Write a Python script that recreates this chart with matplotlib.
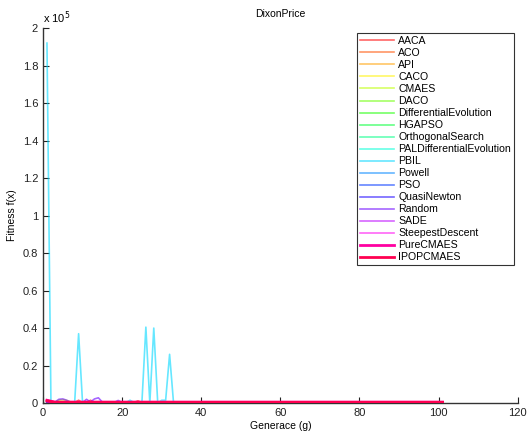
import matplotlib
matplotlib.use("Agg")
import matplotlib.pyplot as plt
import numpy as np
import colorsys

plt.rcParams['font.family'] = ['Liberation Sans', 'DejaVu Sans']

names = ["AACA", "ACO", "API", "CACO", "CMAES", "DACO", "DifferentialEvolution",
         "HGAPSO", "OrthogonalSearch", "PALDifferentialEvolution", "PBIL", "Powell",
         "PSO", "QuasiNewton", "Random", "SADE", "SteepestDescent", "PureCMAES", "IPOPCMAES"]

# fitness values per generation (generation 1, 2, 3, ...)
AACA = [800, 600, 500, 400, 300, 300, 300, 300, 1500, 200, 300, 1500, 300, 200, 200,
        200, 200, 200, 200, 200, 200, 200, 300, 1200, 200, 200, 200, 200, 200, 200]
ACO = [600, 400, 300, 300, 300, 200, 200, 200, 200, 200]
API = [500, 400, 300, 300, 300, 200, 200, 200]
CACO = [700, 500, 400, 600, 800, 500, 300, 200]
CMAES = [900, 700, 500, 1500, 1800, 1400, 600, 300, 200, 200]
DACO = [500, 400, 300, 300, 400, 300, 200, 200]
DifferentialEvolution = [600, 400, 300, 300, 200, 200, 200, 200]
HGAPSO = [500, 400, 300, 300, 200, 200, 200, 200]
OrthogonalSearch = [400, 300, 300, 200, 200, 200]
PALDifferentialEvolution = [500, 400, 300, 300, 200, 200, 200, 200]
PBIL = [192000, 1000, 300, 300, 300, 300, 300, 300, 37000, 0, 300, 300, 300, 300, 300,
        300, 300, 300, 300, 300, 300, 1500, 300, 300, 300, 40500, 0, 40000, 0, 1500,
        1500, 26000, 0, 200, 200]
Powell = [600, 400, 300, 300, 200, 200]
PSO = [700, 500, 400, 300, 300, 200, 200, 200, 200, 200, 200, 200]
QuasiNewton = [600, 400, 300, 300, 200, 200]
Random = [900, 600, 500, 2000, 2200, 1500, 400, 300, 300, 300, 2000, 500, 2200, 2800,
          500, 300, 300, 300, 1400, 300, 300, 300]
SADE = [600, 400, 300, 300, 200, 200, 200, 200]
SteepestDescent = [700, 500, 400, 300, 300, 200, 200, 200, 200, 200, 200, 200, 200, 200,
                   200, 200, 200, 200, 200, 200, 200, 200, 200, 200, 200, 200, 200, 200,
                   200, 200, 200, 200, 200, 200, 200, 200, 200, 200, 200, 200, 200, 500,
                   300, 200]
PureCMAES = [1500, 1000] + [500] * 99
IPOPCMAES = [1200, 800] + [400] * 99

series = [AACA, ACO, API, CACO, CMAES, DACO, DifferentialEvolution, HGAPSO,
          OrthogonalSearch, PALDifferentialEvolution, PBIL, Powell, PSO, QuasiNewton,
          Random, SADE, SteepestDescent, PureCMAES, IPOPCMAES]

fig = plt.figure(figsize=(5.31, 4.32), dpi=100)
ax = fig.add_axes([0.081, 0.067, 0.894, 0.868])

n = len(names)
for i, (name, vals) in enumerate(zip(names, series)):
    h = i / n
    r, g, b = colorsys.hsv_to_rgb(h, 1, 1)
    x = np.arange(1, len(vals) + 1)
    if name in ("PureCMAES", "IPOPCMAES"):
        ax.plot(x, vals, color=(r, g, b), lw=2.0, label=name, zorder=3)
    else:
        ax.plot(x, vals, color=(r, g, b), lw=1.2, alpha=0.6, label=name)

ax.set_xlim(0, 120)
ax.set_ylim(0, 200000)
ax.set_xticks(np.arange(0, 121, 20))
yt = np.arange(0, 200001, 20000)
ax.set_yticks(yt)
ax.set_yticklabels([("%g" % (v / 1e5)) for v in yt])
ax.tick_params(direction='in', labelsize=8, length=4, width=0.8, colors='#222222')
for s in ("top", "right"):
    ax.spines[s].set_visible(False)
for s in ("left", "bottom"):
    ax.spines[s].set_color('#333333')
    ax.spines[s].set_linewidth(1.0)

ax.text(0.0, 1.005, r"x 10$^5$", transform=ax.transAxes, fontsize=8, va='bottom', ha='left')
ax.set_title("DixonPrice", fontsize=7.5, pad=8)
ax.set_xlabel("Generace (g)", fontsize=7.5, labelpad=2)
ax.set_ylabel("Fitness f(x)", fontsize=7.5, labelpad=4)

leg = ax.legend(loc='upper left', bbox_to_anchor=(357 / 531, 1 - 33 / 432),
                bbox_transform=fig.transFigure, fontsize=7.6, frameon=True,
                fancybox=False, edgecolor='black', handlelength=3.2,
                labelspacing=0.19, borderpad=0.3, handletextpad=0.4,
                borderaxespad=0)
leg.get_frame().set_linewidth(0.8)

fig.savefig("out.png", dpi=100)
